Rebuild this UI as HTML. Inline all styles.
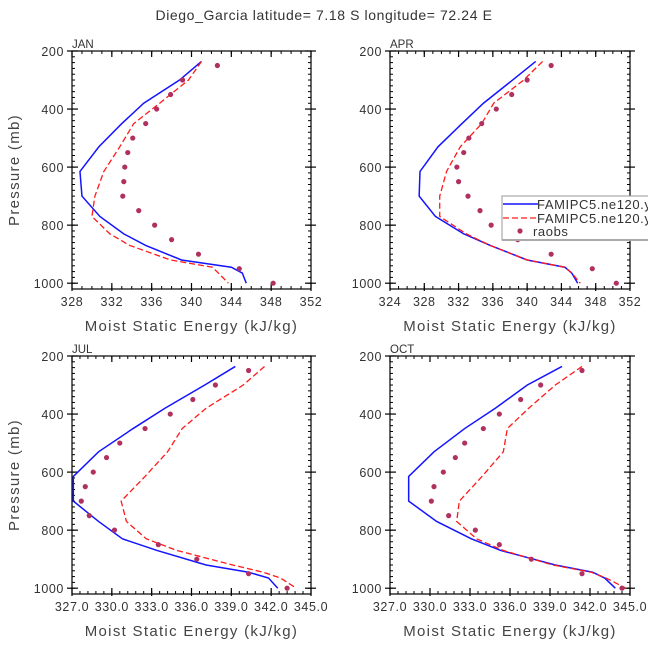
<!DOCTYPE html>
<html><head><meta charset="utf-8">
<style>
body{margin:0;background:#fff;}
svg{display:block;font-family:"Liberation Sans",sans-serif;}
</style></head>
<body>
<svg id="c" width="648" height="649" viewBox="0 0 648 649">
<text x="324" y="20" text-anchor="middle" font-size="14" fill="#333" style="letter-spacing:0.6px">Diego_Garcia  latitude= 7.18 S longitude= 72.24 E</text>
</svg>
<script>
// ---- data ----
const modelLevels=[236,300,380,450,530,615,700,770,830,870,920,945,965,1000];
const raobLevels=[250,300,350,400,450,500,550,600,650,700,750,800,850,900,950,1000];
const janBlue=[341.0,338.8,335.2,333.0,330.7,328.8,329.0,330.8,333.2,335.4,339.0,344.0,345.1,345.5];
const janRed=[341.0,339.7,336.8,334.2,332.8,331.2,330.3,330.0,331.8,333.8,337.9,342.1,342.7,343.7];
const janObs=[342.6,339.1,337.9,336.5,335.4,334.1,333.6,333.3,333.2,333.1,334.7,336.3,338.0,340.7,344.8,348.2];
const aprBlue=[341.0,338.3,334.9,332.4,329.6,327.5,327.4,329.3,332.6,335.7,340.0,344.4,345.2,345.9];
const aprRed=[341.8,339.6,336.1,334.7,332.2,330.6,329.8,329.8,332.9,335.7,340.0,344.4,345.2,346.2];
const aprObs=[342.8,340.0,338.2,336.4,334.7,333.2,332.6,331.8,332.0,333.1,334.5,335.8,338.9,342.8,347.6,350.4];
const julBlue=[339.3,337.0,334.0,331.6,329.0,327.1,327.1,329.0,330.8,333.4,337.1,340.3,341.8,342.5];
const julRed=[341.5,339.9,337.1,335.3,334.2,332.5,330.7,331.1,332.6,334.9,339.1,341.4,342.7,343.9];
const julObs=[340.3,337.8,336.1,334.4,332.5,330.6,329.6,328.6,328.0,327.7,328.3,330.2,333.5,336.4,340.3,343.2];
const octBlue=[339.9,337.3,334.9,332.6,330.3,328.4,328.4,330.5,333.1,335.3,339.4,342.2,343.1,343.9];
const octRed=[341.4,339.4,337.4,335.8,335.5,333.9,332.2,332.0,333.5,335.5,339.2,342.1,343.2,344.7];
const octObs=[341.4,338.3,336.8,335.2,334.0,332.6,331.9,331.0,330.3,330.1,331.4,333.4,335.2,337.6,341.4,344.4];
const janTicks=[328,332,336,340,344,348,352];
const aprTicks=[324,328,332,336,340,344,348,352];
const julTicks=[327,330,333,336,339,342,345];
const octTicks=[327,330,333,336,339,342,345];
const yTicks=[200,400,600,800,1000];

const svg=document.getElementById('c');
const NS='http://www.w3.org/2000/svg';
function mk(tag,attrs,parent){const e=document.createElementNS(NS,tag);for(const k in attrs)e.setAttribute(k,attrs[k]);(parent||svg).appendChild(e);return e;}

const panels=[
 {name:'jan',label:'JAN',x0:72,y0:51,w:239,h:238,xmin:328,xmax:352,ticks:janTicks,minor:1,dec:0,blue:janBlue,red:janRed,obs:janObs,ylab:true},
 {name:'apr',label:'APR',x0:390,y0:51,w:240,h:238,xmin:324,xmax:352,ticks:aprTicks,minor:1,dec:0,blue:aprBlue,red:aprRed,obs:aprObs,ylab:false},
 {name:'jul',label:'JUL',x0:72,y0:356,w:239,h:238,xmin:327,xmax:345,ticks:julTicks,minor:0.6,dec:1,blue:julBlue,red:julRed,obs:julObs,ylab:true},
 {name:'oct',label:'OCT',x0:390,y0:356,w:240,h:238,xmin:327,xmax:345,ticks:octTicks,minor:0.6,dec:1,blue:octBlue,red:octRed,obs:octObs,ylab:false}
];
panels.forEach(p=>{
 const g=mk('g',{});
 
 
 const X=v=>p.x0+(v-p.xmin)/(p.xmax-p.xmin)*p.w;
 const Y=v=>p.y0+(v-200)/(1020-200)*p.h;
 const yb=p.y0+p.h;
 for(let v=p.xmin;v<=p.xmax+1e-6;v+=p.minor){const x=X(v);mk('line',{x1:x,x2:x,y1:yb,y2:yb-3,stroke:'#000','stroke-width':1},g);mk('line',{x1:x,x2:x,y1:p.y0,y2:p.y0+3,stroke:'#000','stroke-width':1},g);}
 p.ticks.forEach(v=>{const x=X(v);mk('line',{x1:x,x2:x,y1:yb+2,y2:yb-6,stroke:'#000','stroke-width':1.2},g);mk('line',{x1:x,x2:x,y1:p.y0,y2:p.y0+6,stroke:'#000','stroke-width':1.2},g);
  const t=mk('text',{x:x,y:yb+17,'text-anchor':'middle','font-size':12.5,fill:'#333','letter-spacing':'0.6'},g);t.textContent=p.dec?v.toFixed(1):v;
  });
 for(let v=220;v<=1000;v+=20){const y=Y(v);mk('line',{x1:p.x0,x2:p.x0+3,y1:y,y2:y,stroke:'#000'},g);mk('line',{x1:p.x0+p.w,x2:p.x0+p.w-3,y1:y,y2:y,stroke:'#000'},g);}
 yTicks.forEach(v=>{const y=Y(v);mk('line',{x1:p.x0-5,x2:p.x0+6,y1:y,y2:y,stroke:'#000','stroke-width':1.2},g);mk('line',{x1:p.x0+p.w+5,x2:p.x0+p.w-6,y1:y,y2:y,stroke:'#000','stroke-width':1.2},g);
  const t=mk('text',{x:p.x0-8,y:y+5,'text-anchor':'end','font-size':12.5,fill:'#333','letter-spacing':'0.6'},g);t.textContent=v;
  });
 mk('rect',{x:p.x0,y:p.y0,width:p.w,height:p.h,fill:'none',stroke:'#000','stroke-width':1.2},g);
 const lb=mk('text',{x:p.x0,y:p.y0-3,'font-size':11.5,fill:'#333'},g);lb.textContent=p.label;
 
 const xl=mk('text',{x:p.x0+p.w/2,y:yb+42,'text-anchor':'middle','font-size':15,fill:'#444','letter-spacing':'1.3'},g);xl.textContent='Moist Static Energy (kJ/kg)';
 
 if(p.ylab){const yl=mk('text',{x:0,y:0,'text-anchor':'middle','font-size':15,fill:'#444','letter-spacing':'1.3',transform:`translate(19,${p.y0+p.h/2}) rotate(-90)`},g);yl.textContent='Pressure (mb)';
  }
 const pb=mk('polyline',{points:modelLevels.map((l,i)=>X(p.blue[i])+','+Y(l)).join(' '),fill:'none',stroke:'#1414ff','stroke-width':1.5},g);
 
 const pr=mk('polyline',{points:modelLevels.map((l,i)=>X(p.red[i])+','+Y(l)).join(' '),fill:'none',stroke:'#ff1a1a','stroke-width':1.3,'stroke-dasharray':'6,3'},g);
 
 raobLevels.forEach((l,i)=>{const c=mk('circle',{cx:X(p.obs[i]),cy:Y(l),r:2.6,fill:'#b03060'},g);
  });
});
const lg=mk('g',{});


mk('rect',{x:502,y:196,width:150,height:44,fill:'#fff',stroke:'#999','stroke-width':1},lg);
mk('line',{x1:502,x2:648,y1:240,y2:240,stroke:'#aaa','stroke-width':2},lg);
mk('line',{x1:503,x2:538,y1:204,y2:204,stroke:'#1414ff','stroke-width':1.5},lg);
mk('line',{x1:503,x2:538,y1:218,y2:218,stroke:'#ff1a1a','stroke-width':1.3,'stroke-dasharray':'6,3'},lg);
mk('circle',{cx:520,cy:231,r:2.6,fill:'#b03060'},lg);
[['FAMIPC5.ne120.y',209],['FAMIPC5.ne120.y',223],['raobs',236]].forEach((d,i)=>{const t=mk('text',{x:i==2?533:537,y:d[1],'font-size':13,fill:'#333','letter-spacing':'0.6'},lg);t.textContent=d[0];
 });
</script>
</body></html>
